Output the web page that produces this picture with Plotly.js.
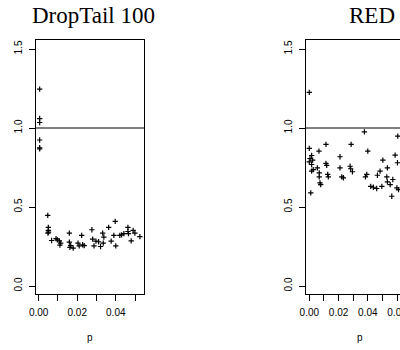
<!DOCTYPE html>
<html>
<head>
<meta charset="utf-8">
<script src="https://cdn.plot.ly/plotly-3.0.1.min.js"></script>
<style>
html,body{margin:0;padding:0;overflow:hidden;background:#fff;}
#chart{width:440px;height:350px;}
</style>
</head>
<body>
<div id="chart"></div>
<script>
// DropTail 100 panel
var dropP = [0.0005,0.0005,0.0005,0.0005,0.0005,0.0005,
  0.0047,0.0050,0.0050,0.0051,0.0048,
  0.0067,0.0090,0.0097,0.0107,0.0114,0.0110,
  0.0159,0.0159,0.0166,0.0162,0.0179,
  0.0204,0.0210,0.0223,0.0228,0.0236,
  0.0276,0.0280,0.0287,0.0297,0.0311,0.0321,
  0.0332,0.0338,0.0335,0.0363,0.0376,0.0390,0.0397,0.0400,
  0.0421,0.0430,0.0442,0.0463,0.0463,0.0466,0.0480,0.0490,0.0499,0.0525];
var dropRatio = [1.246,1.060,1.035,0.924,0.875,0.868,
  0.447,0.371,0.352,0.341,0.335,
  0.288,0.300,0.292,0.286,0.271,0.259,
  0.335,0.278,0.256,0.244,0.240,
  0.271,0.254,0.320,0.261,0.256,
  0.356,0.297,0.254,0.284,0.280,0.250,
  0.335,0.310,0.271,0.371,0.284,0.320,0.409,0.254,
  0.320,0.324,0.331,0.371,0.345,0.331,0.286,0.352,0.335,0.312];

// RED panel
var redP = [0.0000,0.0377,0.0605,0.0114,0.0286,
  0.0000,0.0066,0.0016,0.0005,0.0023,0.0000,0.0016,0.0027,0.0016,0.0055,0.0068,0.0068,0.0073,0.0078,
  0.0114,0.0119,0.0126,0.0130,0.0210,0.0210,0.0222,0.0233,0.0279,0.0283,0.0295,
  0.0400,0.0393,0.0384,0.0420,0.0438,0.0461,0.0496,0.0466,0.0484,0.0503,0.0534,0.0530,0.0534,0.0553,0.0571,0.0587,0.0603,0.0599,0.0610,0.0564,0.0010];
var redRatio = [1.225,0.975,0.949,0.896,0.896,
  0.871,0.854,0.826,0.807,0.797,0.786,0.769,0.737,0.727,0.748,0.716,0.691,0.653,0.642,
  0.776,0.763,0.706,0.691,0.818,0.748,0.691,0.685,0.758,0.742,0.723,
  0.854,0.706,0.691,0.631,0.625,0.617,0.631,0.701,0.727,0.797,0.748,0.691,0.659,0.642,0.674,0.828,0.780,0.621,0.610,0.568,0.589];

var panelTitles = ["DropTail 100", "RED"];
var xLabel = "p";
var yTickVals = [0, 0.5, 1.0, 1.5];
var yTickText = ["0.0", "0.5", "1.0", "1.5"];
var xTickValsL = [0, 0.01, 0.02, 0.03, 0.04, 0.05];
var xTickTextL = ["0.00", "", "0.02", "", "0.04", ""];
var xTickValsR = [0, 0.01, 0.02, 0.03, 0.04, 0.05, 0.06, 0.07];
var xTickTextR = ["0.00", "", "0.02", "", "0.04", "", "0.06", ""];
var refLine = 1.0;

var W = 440, H = 350;
function px(x){return x / W;}
function py(y){return 1 - y / H;}

var mk = {symbol: "cross-thin-open", size: 3.8, color: "#000", line: {color: "#000", width: 1.2}};

var traces = [
  {x: dropP, y: dropRatio, type: "scatter", mode: "markers", marker: mk, xaxis: "x", yaxis: "y", hoverinfo: "none"},
  {x: redP, y: redRatio, type: "scatter", mode: "markers", marker: mk, xaxis: "x2", yaxis: "y2", hoverinfo: "none"}
];

var tickFont = {family: "Liberation Sans, Arial, sans-serif", size: 10, color: "#000"};
function xax(domain, range, vals, text){
  return {domain: domain, range: range, tickmode: "array", tickvals: vals, ticktext: text,
    ticks: "outside", ticklen: 6, tickwidth: 1, tickcolor: "#000", showline: true, mirror: true,
    linecolor: "#000", linewidth: 1, showgrid: false, zeroline: false, tickfont: tickFont,
    ticklabelstandoff: 3};
}
function yax(domain, anchor){
  return {domain: domain, range: [-0.0506, 1.557], anchor: anchor, tickmode: "array", tickvals: yTickVals,
    ticktext: yTickText, tickangle: -90, ticks: "outside", ticklen: 6, tickwidth: 1, tickcolor: "#000",
    showline: true, mirror: true, linecolor: "#000", linewidth: 1, showgrid: false, zeroline: false,
    tickfont: tickFont, ticklabelstandoff: 3};
}

var yDom = [56 / H, 310 / H];
var layout = {
  width: W, height: H, margin: {l: 0, r: 0, t: 0, b: 0}, showlegend: false,
  paper_bgcolor: "#fff", plot_bgcolor: "#fff",
  xaxis: Object.assign(xax([px(36), px(144)], [-0.0014, 0.05464], xTickValsL, xTickTextL), {anchor: "y"}),
  yaxis: yax(yDom, "x"),
  xaxis2: Object.assign(xax([px(306), px(414)], [-0.00226, 0.0716], xTickValsR, xTickTextR), {anchor: "y2"}),
  yaxis2: yax(yDom, "x2"),
  shapes: [
    {type: "line", xref: "x domain", yref: "y", x0: 0, x1: 1, y0: refLine, y1: refLine, line: {color: "#000", width: 1}},
    {type: "line", xref: "x2 domain", yref: "y2", x0: 0, x1: 1, y0: refLine, y1: refLine, line: {color: "#000", width: 1}}
  ],
  annotations: [
    {text: panelTitles[0], xref: "paper", yref: "paper", x: px(93.5), y: py(16), xanchor: "center", yanchor: "middle", showarrow: false,
      font: {family: "Liberation Serif, Times New Roman, serif", size: 23, color: "#000"}},
    {text: panelTitles[1], xref: "paper", yref: "paper", x: px(371.5), y: py(16), xanchor: "center", yanchor: "middle", showarrow: false,
      font: {family: "Liberation Serif, Times New Roman, serif", size: 23, color: "#000"}},
    {text: xLabel, xref: "paper", yref: "paper", x: px(90), y: py(337), xanchor: "center", yanchor: "middle", showarrow: false,
      font: {family: "Liberation Sans, Arial, sans-serif", size: 10, color: "#000"}},
    {text: xLabel, xref: "paper", yref: "paper", x: px(360), y: py(337), xanchor: "center", yanchor: "middle", showarrow: false,
      font: {family: "Liberation Sans, Arial, sans-serif", size: 10, color: "#000"}}
  ]
};

Plotly.newPlot("chart", traces, layout, {staticPlot: true, displayModeBar: false});
</script>
</body>
</html>
